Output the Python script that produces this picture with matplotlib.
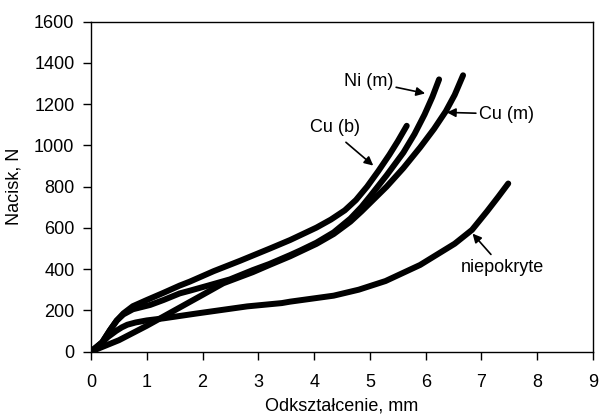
import matplotlib
matplotlib.use('Agg')
import matplotlib.pyplot as plt

plt.rcParams['font.family'] = ['Liberation Sans', 'DejaVu Sans']

# Cu (b)
cub_x = [0, 0.2, 0.34, 0.46, 0.58, 0.75, 1.0, 1.3, 1.59, 1.77, 2.2, 2.67, 3.21, 3.57,
         4.04, 4.3, 4.55, 4.75, 4.95, 5.15, 5.35, 5.5, 5.66]
cub_y = [0, 45, 104, 150, 185, 220, 250, 285, 320, 339, 390, 440, 500, 541,
         601, 640, 685, 735, 800, 875, 955, 1020, 1095]

# Ni (m)
nim_x = [0, 0.2, 0.34, 0.46, 0.58, 0.75, 1.06, 1.3, 1.59, 1.77, 2.1, 2.49, 2.9, 3.2, 3.57,
         3.75, 4.04, 4.35, 4.65, 4.85, 5.0, 5.3, 5.6, 5.8, 5.98, 6.12, 6.24]
nim_y = [0, 45, 104, 150, 180, 205, 226, 250, 282, 295, 320, 350, 395, 425, 468,
         490, 528, 578, 645, 702, 752, 855, 965, 1055, 1150, 1235, 1320]

# Cu (m)
cum_x = [0, 0.5, 1.0, 1.5, 2.0, 2.37, 2.9, 3.2, 3.57, 3.75, 4.04, 4.35, 4.65, 4.85, 5.0,
         5.3, 5.6, 5.9, 6.15, 6.36, 6.52, 6.67]
cum_y = [0, 55, 125, 200, 275, 331, 385, 420, 462, 485, 522, 570, 630, 680, 720,
         800, 890, 990, 1080, 1165, 1245, 1340]

# niepokryte
nie_x = [0, 0.15, 0.3, 0.45, 0.55, 0.65, 0.8, 1.0, 1.3, 1.88, 2.8, 3.42, 3.57, 4.35, 4.8,
         5.28, 5.9, 6.52, 6.83, 7.1, 7.3, 7.48]
nie_y = [0, 30, 70, 100, 117, 130, 141, 151, 161, 184, 219, 235, 242, 271, 300,
         342, 420, 523, 590, 680, 750, 815]

fig = plt.figure(figsize=(5.99, 4.17), dpi=100)
ax = fig.add_axes([0.152, 0.157, 0.838, 0.791])

for xs, ys in [(cub_x, cub_y), (nim_x, nim_y), (cum_x, cum_y), (nie_x, nie_y)]:
    ax.plot(xs, ys, color='black', lw=4.3, solid_capstyle='round', solid_joinstyle='round')

ax.set_xlim(0, 9)
ax.set_ylim(0, 1600)
ax.set_xticks(range(0, 10))
ax.set_yticks(range(0, 1601, 200))
ax.tick_params(direction='out', length=6, width=1, labelsize=13, colors='black')
ax.tick_params(axis='x', pad=10)
ax.tick_params(axis='y', pad=6)
for s in ax.spines.values():
    s.set_linewidth(1)
ax.set_xlabel('Odkształcenie, mm', fontsize=13, labelpad=5)
ax.set_ylabel('Nacisk, N', fontsize=13, labelpad=8)

arrow = dict(arrowstyle='-|>', color='black', lw=1.2, mutation_scale=13, shrinkA=0, shrinkB=0)
ax.annotate('Ni (m)', xy=(5.99, 1252), xytext=(5.42, 1310), ha='right', va='center',
            fontsize=13, arrowprops=arrow)
ax.annotate('Cu (m)', xy=(6.38, 1160), xytext=(6.95, 1152), ha='left', va='center',
            fontsize=13, arrowprops=arrow)

ax.text(4.38, 1087, 'Cu (b)', ha='center', va='center', fontsize=13)
ax.annotate('', xy=(5.06, 902), xytext=(4.57, 1015), arrowprops=arrow)

ax.text(7.38, 410, 'niepokryte', ha='center', va='center', fontsize=13)
ax.annotate('', xy=(6.84, 572), xytext=(7.17, 471), arrowprops=arrow)

fig.savefig('out.png', dpi=100)
